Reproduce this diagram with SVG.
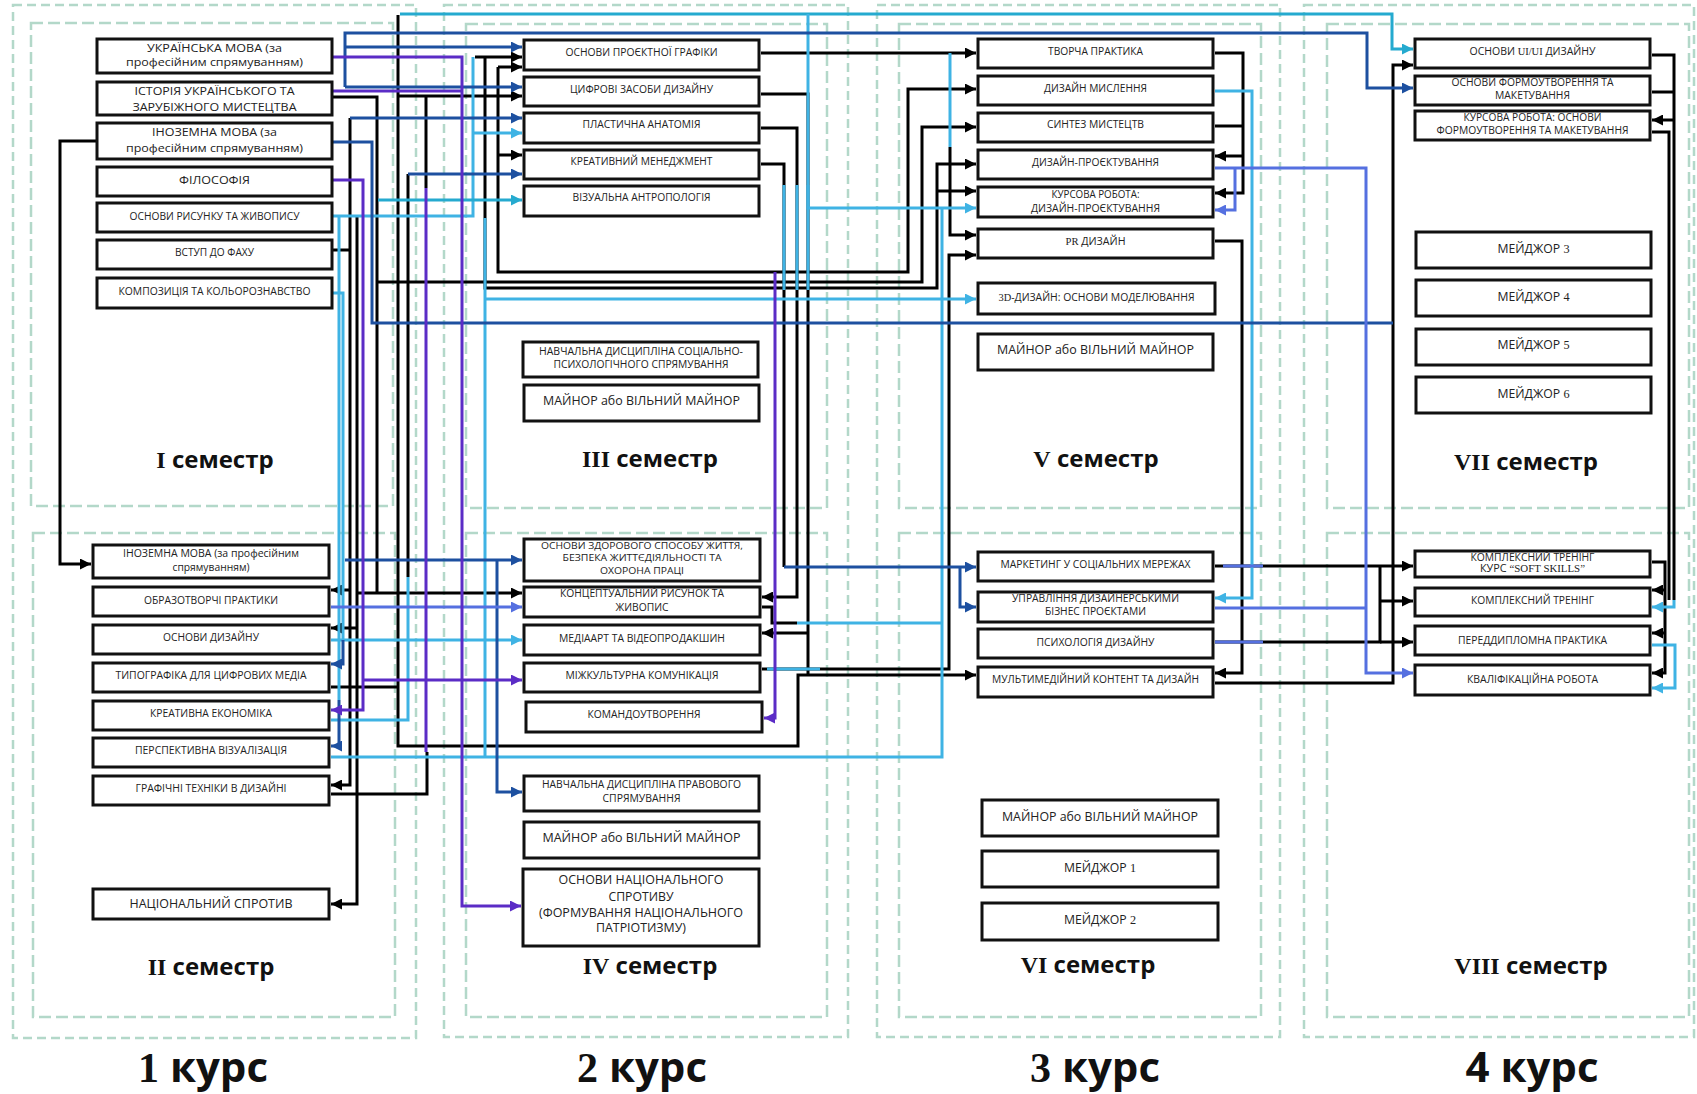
<svg xmlns="http://www.w3.org/2000/svg" width="1697" height="1094" viewBox="0 0 1697 1094">
<style>
.frame{fill:none;stroke:#b3d8c9;stroke-width:2.5;stroke-dasharray:12 5}
.outer{fill:none;stroke:#b3d8c9;stroke-width:2.5;stroke-dasharray:9 5}
.box{fill:#fff;stroke:#111;stroke-width:3}
.t{font-family:"Open Sans","Noto Sans","DejaVu Sans",sans-serif;font-size:11.5px;fill:#222;text-anchor:middle}
.s{font-family:"Liberation Serif","Times New Roman",serif}
.sem{font-family:"Open Sans","Noto Sans",sans-serif;font-weight:bold;font-size:24px;fill:#111;text-anchor:middle}
.kurs{font-family:"Open Sans","Noto Sans",sans-serif;font-weight:bold;font-size:42px;fill:#111;text-anchor:middle}
.c{fill:none;stroke-width:3}
.k{stroke:#000}.cy{stroke:#3fb3e4}.tl{stroke:#25aacf}.nv{stroke:#1d50a0}.bl{stroke:#5570e0}.pu{stroke:#5b2cc6}
</style>
<defs>
<marker id="ak" viewBox="0 0 10 10" refX="10" refY="5" markerUnits="userSpaceOnUse" markerWidth="11" markerHeight="11" orient="auto"><path d="M0,0L10,5L0,10z" fill="#000"/></marker>
<marker id="acy" viewBox="0 0 10 10" refX="10" refY="5" markerUnits="userSpaceOnUse" markerWidth="11" markerHeight="11" orient="auto"><path d="M0,0L10,5L0,10z" fill="#3fb3e4"/></marker>
<marker id="atl" viewBox="0 0 10 10" refX="10" refY="5" markerUnits="userSpaceOnUse" markerWidth="11" markerHeight="11" orient="auto"><path d="M0,0L10,5L0,10z" fill="#25aacf"/></marker>
<marker id="anv" viewBox="0 0 10 10" refX="10" refY="5" markerUnits="userSpaceOnUse" markerWidth="11" markerHeight="11" orient="auto"><path d="M0,0L10,5L0,10z" fill="#1d50a0"/></marker>
<marker id="abl" viewBox="0 0 10 10" refX="10" refY="5" markerUnits="userSpaceOnUse" markerWidth="11" markerHeight="11" orient="auto"><path d="M0,0L10,5L0,10z" fill="#5570e0"/></marker>
<marker id="apu" viewBox="0 0 10 10" refX="10" refY="5" markerUnits="userSpaceOnUse" markerWidth="11" markerHeight="11" orient="auto"><path d="M0,0L10,5L0,10z" fill="#5b2cc6"/></marker>
</defs>
<rect width="1697" height="1094" fill="#fff"/>
<g id="frames">
<rect class="outer" x="13" y="5" width="403" height="1033"/>
<rect class="outer" x="444" y="5" width="404" height="1032"/>
<rect class="outer" x="877" y="5" width="403" height="1032"/>
<rect class="outer" x="1304" y="5" width="390" height="1032"/>
<rect class="frame" x="31" y="23" width="362" height="483"/>
<rect class="frame" x="33" y="533" width="362" height="484"/>
<rect class="frame" x="466" y="24" width="361" height="484"/>
<rect class="frame" x="466" y="533" width="361" height="484"/>
<rect class="frame" x="899" y="24" width="362" height="484"/>
<rect class="frame" x="899" y="533" width="362" height="484"/>
<rect class="frame" x="1327" y="24" width="362" height="484"/>
<rect class="frame" x="1327" y="533" width="362" height="484"/>
</g>
<g id="labels">
<text class="sem" x="215" y="468"><tspan class="s">I</tspan> семестр</text>
<text class="sem" x="211" y="975"><tspan class="s">II</tspan> семестр</text>
<text class="sem" x="650" y="467"><tspan class="s">III</tspan> семестр</text>
<text class="sem" x="650" y="974"><tspan class="s">IV</tspan> семестр</text>
<text class="sem" x="1096" y="467"><tspan class="s">V</tspan> семестр</text>
<text class="sem" x="1088" y="973"><tspan class="s">VI</tspan> семестр</text>
<text class="sem" x="1526" y="470"><tspan class="s">VII</tspan> семестр</text>
<text class="sem" x="1531" y="974"><tspan class="s">VIII</tspan> семестр</text>
<text class="kurs" x="203" y="1082"><tspan class="s">1</tspan> курс</text>
<text class="kurs" x="642" y="1082"><tspan class="s">2</tspan> курс</text>
<text class="kurs" x="1095" y="1082"><tspan class="s">3</tspan> курс</text>
<text class="kurs" x="1532" y="1082">4 курс</text>
</g>
<g id="connectors">
<path class="c k" d="M97,141H60V564H91" marker-end="url(#ak)"/>
<path class="c k" d="M333,97H377V593"/>
<path class="c k" d="M377,282H922V127H976" marker-end="url(#ak)"/>
<path class="c k" d="M398,15V746H798V675H976" marker-end="url(#ak)"/>
<path class="c k" d="M398,96H522" marker-end="url(#ak)"/>
<path class="c k" d="M426,96V188"/>
<path class="c k" d="M333,250H350"/>
<path class="c k" d="M350,118V785H331" marker-end="url(#ak)"/>
<path class="c k" d="M350,590H331" marker-end="url(#ak)"/>
<path class="c k" d="M357,216V904H331" marker-end="url(#ak)"/>
<path class="c k" d="M357,593H522" marker-end="url(#ak)"/>
<path class="c k" d="M358,628H331" marker-end="url(#ak)"/>
<path class="c k" d="M408,174V577"/>
<path class="c k" d="M331,687H398"/>
<path class="c k" d="M331,794H427V752"/>
<path class="c k" d="M475,57H522" marker-end="url(#ak)"/>
<path class="c k" d="M485,57V288H937V164H976" marker-end="url(#ak)"/>
<path class="c k" d="M937,191H976" marker-end="url(#ak)"/>
<path class="c k" d="M498,67H522" marker-end="url(#ak)"/>
<path class="c k" d="M498,67V272H908V89H976" marker-end="url(#ak)"/>
<path class="c k" d="M498,155H522" marker-end="url(#ak)"/>
<path class="c k" d="M761,53H976" marker-end="url(#ak)"/>
<path class="c k" d="M761,94H808V675"/>
<path class="c k" d="M808,633H762" marker-end="url(#ak)"/>
<path class="c k" d="M761,128H797V597H762" marker-end="url(#ak)"/>
<path class="c k" d="M761,164H784V567"/>
<path class="c k" d="M762,607H772V623H797"/>
<path class="c k" d="M762,669H949V255H976" marker-end="url(#ak)"/>
<path class="c k" d="M950,147V235H976" marker-end="url(#ak)"/>
<path class="c k" d="M1215,53H1243V193H1215" marker-end="url(#ak)"/>
<path class="c k" d="M1243,156H1215" marker-end="url(#ak)"/>
<path class="c k" d="M1215,126H1243"/>
<path class="c k" d="M1215,241H1242V673H1215" marker-end="url(#ak)"/>
<path class="c k" d="M1215,566H1413" marker-end="url(#ak)"/>
<path class="c k" d="M1215,642H1380V566"/>
<path class="c k" d="M1380,601H1413" marker-end="url(#ak)"/>
<path class="c k" d="M1380,642H1413" marker-end="url(#ak)"/>
<path class="c k" d="M1215,683H1393V65H1413" marker-end="url(#ak)"/>
<path class="c k" d="M1652,55H1674V600"/>
<path class="c k" d="M1674,120H1652" marker-end="url(#ak)"/>
<path class="c k" d="M1652,92H1674"/>
<path class="c k" d="M1652,132H1669V600"/>
<path class="c k" d="M1652,562H1665V673H1652" marker-end="url(#ak)"/>
<path class="c k" d="M1665,590H1652" marker-end="url(#ak)"/>
<path class="c k" d="M1665,633H1652" marker-end="url(#ak)"/>
<path class="c tl" d="M400,14H1392V49H1413" marker-end="url(#atl)"/>
<path class="c cy" d="M808,14V208H976" marker-end="url(#acy)"/>
<path class="c cy" d="M333,216H473V57"/>
<path class="c cy" d="M473,133H522" marker-end="url(#acy)"/>
<path class="c tl" d="M378,200H522" marker-end="url(#atl)"/>
<path class="c cy" d="M339,216V700"/>
<path class="c cy" d="M333,293H343V640"/>
<path class="c cy" d="M485,218V757"/>
<path class="c cy" d="M485,299H976" marker-end="url(#acy)"/>
<path class="c cy" d="M331,757H942V208"/>
<path class="c cy" d="M797,623H942"/>
<path class="c cy" d="M331,640H522" marker-end="url(#acy)"/>
<path class="c cy" d="M331,720H408V577"/>
<path class="c cy" d="M784,185V290M797,185V290M808,185V290"/>
<path class="c cy" d="M767,669H820"/>
<path class="c cy" d="M950,53V147"/>
<path class="c cy" d="M1215,91H1252V598H1215" marker-end="url(#acy)"/>
<path class="c cy" d="M1674,600V607H1652" marker-end="url(#acy)"/>
<path class="c cy" d="M1652,645H1675V688H1652" marker-end="url(#acy)"/>
<path class="c nv" d="M333,142H372V323H1393"/>
<path class="c nv" d="M345,87V33H1367V88H1413" marker-end="url(#anv)"/>
<path class="c nv" d="M345,47H522" marker-end="url(#anv)"/>
<path class="c nv" d="M345,87H522" marker-end="url(#anv)"/>
<path class="c nv" d="M350,118H522" marker-end="url(#anv)"/>
<path class="c nv" d="M408,174H522" marker-end="url(#anv)"/>
<path class="c nv" d="M345,560H522" marker-end="url(#anv)"/>
<path class="c nv" d="M497,560V792H522" marker-end="url(#anv)"/>
<path class="c nv" d="M784,567H976" marker-end="url(#anv)"/>
<path class="c nv" d="M960,567V607H976" marker-end="url(#anv)"/>
<path class="c nv" d="M339,700V746H331" marker-end="url(#anv)"/>
<path class="c nv" d="M343,640V664H331" marker-end="url(#anv)"/>
<path class="c bl" d="M331,607H522" marker-end="url(#abl)"/>
<path class="c bl" d="M1215,168H1366V673H1413" marker-end="url(#abl)"/>
<path class="c bl" d="M1235,168V210H1215" marker-end="url(#abl)"/>
<path class="c bl" d="M1215,608H1366"/>
<path class="c bl" d="M1223,566H1263M1215,642H1263"/>
<path class="c pu" d="M333,57H462V906H521" marker-end="url(#apu)"/>
<path class="c pu" d="M333,91H462"/>
<path class="c pu" d="M333,180H363V710H331" marker-end="url(#apu)"/>
<path class="c pu" d="M363,680H522" marker-end="url(#apu)"/>
<path class="c pu" d="M426,188V752"/>
<path class="c pu" d="M775,272V718H764" marker-end="url(#apu)"/>
</g>
<g id="n-ukr"><rect class="box" x="97" y="39" width="235" height="34"/><text class="t" x="214.5" y="52" textLength="135" lengthAdjust="spacingAndGlyphs">УКРАЇНСЬКА МОВА (за</text><text class="t" x="214.5" y="66" textLength="177" lengthAdjust="spacingAndGlyphs">професійним спрямуванням)</text></g>
<g id="n-ist"><rect class="box" x="97" y="82" width="235" height="33"/><text class="t" x="214.5" y="95" textLength="160" lengthAdjust="spacingAndGlyphs">ІСТОРІЯ УКРАЇНСЬКОГО ТА</text><text class="t" x="214.5" y="111" textLength="164" lengthAdjust="spacingAndGlyphs">ЗАРУБІЖНОГО МИСТЕЦТВА</text></g>
<g id="n-inoz1"><rect class="box" x="97" y="123" width="235" height="36"/><text class="t" x="214.5" y="136" textLength="125" lengthAdjust="spacingAndGlyphs">ІНОЗЕМНА МОВА (за</text><text class="t" x="214.5" y="152" textLength="177" lengthAdjust="spacingAndGlyphs">професійним спрямуванням)</text></g>
<g id="n-fil"><rect class="box" x="97" y="167" width="235" height="29"/><text class="t" x="214.5" y="184" textLength="71" lengthAdjust="spacingAndGlyphs">ФІЛОСОФІЯ</text></g>
<g id="n-rys"><rect class="box" x="97" y="203" width="235" height="29"/><text class="t" x="214.5" y="220" textLength="170" lengthAdjust="spacingAndGlyphs" style="font-size:10.5px">ОСНОВИ РИСУНКУ ТА ЖИВОПИСУ</text></g>
<g id="n-vstup"><rect class="box" x="97" y="240" width="235" height="29"/><text class="t" x="214.5" y="256" textLength="79" lengthAdjust="spacingAndGlyphs" style="font-size:10.5px">ВСТУП ДО ФАХУ</text></g>
<g id="n-komp"><rect class="box" x="97" y="278" width="235" height="30"/><text class="t" x="214.5" y="295" textLength="192" lengthAdjust="spacingAndGlyphs" style="font-size:10.5px">КОМПОЗИЦІЯ ТА КОЛЬОРОЗНАВСТВО</text></g>
<g id="n-inoz2"><rect class="box" x="93" y="545" width="236" height="33"/><text class="t" x="211" y="557" textLength="176" lengthAdjust="spacingAndGlyphs" style="font-size:10.5px">ІНОЗЕМНА МОВА  (за професійним</text><text class="t" x="211" y="571" textLength="77" lengthAdjust="spacingAndGlyphs" style="font-size:10.5px">спрямуванням)</text></g>
<g id="n-obraz"><rect class="box" x="93" y="587" width="236" height="29"/><text class="t" x="211" y="604" textLength="134" lengthAdjust="spacingAndGlyphs" style="font-size:10.5px">ОБРАЗОТВОРЧІ ПРАКТИКИ</text></g>
<g id="n-osndyz"><rect class="box" x="93" y="625" width="236" height="29"/><text class="t" x="211" y="641" textLength="96" lengthAdjust="spacingAndGlyphs" style="font-size:10.5px">ОСНОВИ ДИЗАЙНУ</text></g>
<g id="n-typo"><rect class="box" x="93" y="663" width="236" height="29"/><text class="t" x="211" y="679" textLength="191" lengthAdjust="spacingAndGlyphs" style="font-size:10.5px">ТИПОГРАФІКА ДЛЯ ЦИФРОВИХ МЕДІА</text></g>
<g id="n-kreek"><rect class="box" x="93" y="701" width="236" height="29"/><text class="t" x="211" y="717" textLength="122" lengthAdjust="spacingAndGlyphs" style="font-size:10.5px">КРЕАТИВНА ЕКОНОМІКА</text></g>
<g id="n-persp"><rect class="box" x="93" y="738" width="236" height="29"/><text class="t" x="211" y="754" textLength="152" lengthAdjust="spacingAndGlyphs" style="font-size:10.5px">ПЕРСПЕКТИВНА ВІЗУАЛІЗАЦІЯ</text></g>
<g id="n-graf"><rect class="box" x="93" y="776" width="236" height="29"/><text class="t" x="211" y="792" textLength="151" lengthAdjust="spacingAndGlyphs" style="font-size:10.5px">ГРАФІЧНІ ТЕХНІКИ В ДИЗАЙНІ</text></g>
<g id="n-natspr"><rect class="box" x="93" y="889" width="236" height="30"/><text class="t" x="211" y="908" textLength="163" lengthAdjust="spacingAndGlyphs" style="font-size:13px">НАЦІОНАЛЬНИЙ СПРОТИВ</text></g>
<g id="n-proekt"><rect class="box" x="524" y="40" width="235" height="30"/><text class="t" x="641.5" y="56" textLength="152" lengthAdjust="spacingAndGlyphs" style="font-size:10.5px">ОСНОВИ ПРОЄКТНОЇ ГРАФІКИ</text></g>
<g id="n-tsyfr"><rect class="box" x="524" y="77" width="235" height="29"/><text class="t" x="641.5" y="93" textLength="143" lengthAdjust="spacingAndGlyphs" style="font-size:10.5px">ЦИФРОВІ ЗАСОБИ ДИЗАЙНУ</text></g>
<g id="n-plast"><rect class="box" x="524" y="113" width="235" height="30"/><text class="t" x="641.5" y="128" textLength="118" lengthAdjust="spacingAndGlyphs" style="font-size:10.5px">ПЛАСТИЧНА АНАТОМІЯ</text></g>
<g id="n-kremen"><rect class="box" x="524" y="150" width="235" height="29"/><text class="t" x="641.5" y="165" textLength="142" lengthAdjust="spacingAndGlyphs" style="font-size:10.5px">КРЕАТИВНИЙ МЕНЕДЖМЕНТ</text></g>
<g id="n-viz"><rect class="box" x="524" y="186" width="235" height="30"/><text class="t" x="641.5" y="201" textLength="138" lengthAdjust="spacingAndGlyphs" style="font-size:10.5px">ВІЗУАЛЬНА АНТРОПОЛОГІЯ</text></g>
<g id="n-socpsy"><rect class="box" x="523" y="342" width="235" height="35"/><text class="t" x="641" y="355" textLength="204" lengthAdjust="spacingAndGlyphs" style="font-size:10.5px">НАВЧАЛЬНА ДИСЦИПЛІНА СОЦІАЛЬНО-</text><text class="t" x="641" y="368" textLength="175" lengthAdjust="spacingAndGlyphs" style="font-size:10.5px">ПСИХОЛОГІЧНОГО СПРЯМУВАННЯ</text></g>
<g id="n-minor3"><rect class="box" x="524" y="385" width="235" height="36"/><text class="t" x="641.5" y="405" textLength="197" lengthAdjust="spacingAndGlyphs" style="font-size:13.5px">МАЙНОР або ВІЛЬНИЙ МАЙНОР</text></g>
<g id="n-zdor"><rect class="box" x="524" y="539" width="236" height="42"/><text class="t" x="642" y="548.6" textLength="202" lengthAdjust="spacingAndGlyphs" style="font-size:9.2px">ОСНОВИ ЗДОРОВОГО СПОСОБУ ЖИТТЯ,</text><text class="t" x="642" y="561.2" textLength="159" lengthAdjust="spacingAndGlyphs" style="font-size:9.2px">БЕЗПЕКА ЖИТТЄДІЯЛЬНОСТІ ТА</text><text class="t" x="642" y="573.8" textLength="84" lengthAdjust="spacingAndGlyphs" style="font-size:9.2px">ОХОРОНА ПРАЦІ</text></g>
<g id="n-konts"><rect class="box" x="524" y="587" width="236" height="30"/><text class="t" x="642" y="597" textLength="164" lengthAdjust="spacingAndGlyphs" style="font-size:10.5px">КОНЦЕПТУАЛЬНИЙ РИСУНОК ТА</text><text class="t" x="642" y="611" textLength="53" lengthAdjust="spacingAndGlyphs" style="font-size:10.5px">ЖИВОПИС</text></g>
<g id="n-media"><rect class="box" x="524" y="625" width="236" height="30"/><text class="t" x="642" y="642" textLength="166" lengthAdjust="spacingAndGlyphs" style="font-size:10.5px">МЕДІААРТ ТА ВІДЕОПРОДАКШИН</text></g>
<g id="n-mizhk"><rect class="box" x="524" y="663" width="236" height="29"/><text class="t" x="642" y="679" textLength="153" lengthAdjust="spacingAndGlyphs" style="font-size:10.5px">МІЖКУЛЬТУРНА КОМУНІКАЦІЯ</text></g>
<g id="n-koman"><rect class="box" x="526" y="702" width="236" height="30"/><text class="t" x="644" y="718" textLength="113" lengthAdjust="spacingAndGlyphs" style="font-size:10.5px">КОМАНДОУТВОРЕННЯ</text></g>
<g id="n-prav"><rect class="box" x="524" y="776" width="235" height="35"/><text class="t" x="641.5" y="788" textLength="199" lengthAdjust="spacingAndGlyphs" style="font-size:10.5px">НАВЧАЛЬНА ДИСЦИПЛІНА ПРАВОВОГО</text><text class="t" x="641.5" y="802" textLength="78" lengthAdjust="spacingAndGlyphs" style="font-size:10.5px">СПРЯМУВАННЯ</text></g>
<g id="n-minor4"><rect class="box" x="524" y="822" width="235" height="36"/><text class="t" x="641.5" y="842" textLength="198" lengthAdjust="spacingAndGlyphs" style="font-size:13.5px">МАЙНОР або ВІЛЬНИЙ МАЙНОР</text></g>
<g id="n-osnnat"><rect class="box" x="523" y="869" width="236" height="77"/><text class="t" x="641" y="884" textLength="165" lengthAdjust="spacingAndGlyphs" style="font-size:12.5px">ОСНОВИ НАЦІОНАЛЬНОГО</text><text class="t" x="641" y="901" textLength="65" lengthAdjust="spacingAndGlyphs" style="font-size:12.5px">СПРОТИВУ</text><text class="t" x="641" y="917" textLength="204" lengthAdjust="spacingAndGlyphs" style="font-size:12.5px">(ФОРМУВАННЯ НАЦІОНАЛЬНОГО</text><text class="t" x="641" y="932" textLength="90" lengthAdjust="spacingAndGlyphs" style="font-size:12.5px">ПАТРІОТИЗМУ)</text></g>
<g id="n-tvor"><rect class="box" x="978" y="39" width="235" height="29"/><text class="t" x="1095.5" y="55" textLength="95" lengthAdjust="spacingAndGlyphs" style="font-size:10.5px">ТВОРЧА ПРАКТИКА</text></g>
<g id="n-mysl"><rect class="box" x="978" y="76" width="235" height="29"/><text class="t" x="1095.5" y="92" textLength="103" lengthAdjust="spacingAndGlyphs" style="font-size:10.5px">ДИЗАЙН МИСЛЕННЯ</text></g>
<g id="n-synt"><rect class="box" x="978" y="113" width="235" height="29"/><text class="t" x="1095.5" y="128" textLength="97" lengthAdjust="spacingAndGlyphs" style="font-size:10.5px">СИНТЕЗ МИСТЕЦТВ</text></g>
<g id="n-dproj"><rect class="box" x="978" y="150" width="235" height="29"/><text class="t" x="1095.5" y="166" textLength="127" lengthAdjust="spacingAndGlyphs" style="font-size:10.5px">ДИЗАЙН-ПРОЄКТУВАННЯ</text></g>
<g id="n-kurs5"><rect class="box" x="978" y="187" width="235" height="30"/><text class="t" x="1095.5" y="198" textLength="88" lengthAdjust="spacingAndGlyphs" style="font-size:10.5px">КУРСОВА РОБОТА:</text><text class="t" x="1095.5" y="212" textLength="129" lengthAdjust="spacingAndGlyphs" style="font-size:10.5px">ДИЗАЙН-ПРОЄКТУВАННЯ</text></g>
<g id="n-pr"><rect class="box" x="978" y="229" width="235" height="29"/><text class="t" x="1095.5" y="245" textLength="60" lengthAdjust="spacingAndGlyphs" style="font-size:10.5px"><tspan class="s">PR</tspan> ДИЗАЙН</text></g>
<g id="n-3d"><rect class="box" x="978" y="283" width="237" height="31"/><text class="t" x="1096.5" y="301" textLength="196" lengthAdjust="spacingAndGlyphs" style="font-size:10.5px"><tspan class="s">3D</tspan>-ДИЗАЙН: ОСНОВИ МОДЕЛЮВАННЯ</text></g>
<g id="n-minor5"><rect class="box" x="978" y="334" width="235" height="36"/><text class="t" x="1095.5" y="354" textLength="197" lengthAdjust="spacingAndGlyphs" style="font-size:13.5px">МАЙНОР або ВІЛЬНИЙ МАЙНОР</text></g>
<g id="n-mark"><rect class="box" x="978" y="552" width="235" height="29"/><text class="t" x="1095.5" y="568" textLength="190" lengthAdjust="spacingAndGlyphs" style="font-size:10.5px">МАРКЕТИНГ У СОЦІАЛЬНИХ МЕРЕЖАХ</text></g>
<g id="n-uprav"><rect class="box" x="978" y="592" width="235" height="30"/><text class="t" x="1095.5" y="602" textLength="167" lengthAdjust="spacingAndGlyphs" style="font-size:10.5px">УПРАВЛІННЯ ДИЗАЙНЕРСЬКИМИ</text><text class="t" x="1095.5" y="615" textLength="101" lengthAdjust="spacingAndGlyphs" style="font-size:10.5px">БІЗНЕС ПРОЄКТАМИ</text></g>
<g id="n-psy"><rect class="box" x="978" y="629" width="235" height="29"/><text class="t" x="1095.5" y="646" textLength="118" lengthAdjust="spacingAndGlyphs" style="font-size:10.5px">ПСИХОЛОГІЯ ДИЗАЙНУ</text></g>
<g id="n-multi"><rect class="box" x="978" y="667" width="235" height="30"/><text class="t" x="1095.5" y="683" textLength="207" lengthAdjust="spacingAndGlyphs" style="font-size:10.5px">МУЛЬТИМЕДІЙНИЙ КОНТЕНТ ТА ДИЗАЙН</text></g>
<g id="n-minor6"><rect class="box" x="982" y="800" width="236" height="36"/><text class="t" x="1100" y="821" textLength="196" lengthAdjust="spacingAndGlyphs" style="font-size:13px">МАЙНОР або ВІЛЬНИЙ МАЙНОР</text></g>
<g id="n-maj1"><rect class="box" x="982" y="851" width="236" height="36"/><text class="t" x="1100" y="872" textLength="72" lengthAdjust="spacingAndGlyphs" style="font-size:12.5px">МЕЙДЖОР <tspan class="s">1</tspan></text></g>
<g id="n-maj2"><rect class="box" x="982" y="903" width="236" height="37"/><text class="t" x="1100" y="924" textLength="72" lengthAdjust="spacingAndGlyphs" style="font-size:12.5px">МЕЙДЖОР <tspan class="s">2</tspan></text></g>
<g id="n-ui"><rect class="box" x="1415" y="39" width="235" height="29"/><text class="t" x="1532.5" y="55" textLength="126" lengthAdjust="spacingAndGlyphs" style="font-size:10.5px">ОСНОВИ <tspan class="s">UI/UI</tspan> ДИЗАЙНУ</text></g>
<g id="n-form"><rect class="box" x="1415" y="76" width="235" height="29"/><text class="t" x="1532.5" y="86" textLength="162" lengthAdjust="spacingAndGlyphs" style="font-size:10.5px">ОСНОВИ ФОРМОУТВОРЕННЯ ТА</text><text class="t" x="1532.5" y="99" textLength="75" lengthAdjust="spacingAndGlyphs" style="font-size:10.5px">МАКЕТУВАННЯ</text></g>
<g id="n-kurs7"><rect class="box" x="1415" y="111" width="235" height="29"/><text class="t" x="1532.5" y="121" textLength="138" lengthAdjust="spacingAndGlyphs" style="font-size:10.5px">КУРСОВА РОБОТА: ОСНОВИ</text><text class="t" x="1532.5" y="134" textLength="192" lengthAdjust="spacingAndGlyphs" style="font-size:10.5px">ФОРМОУТВОРЕННЯ ТА МАКЕТУВАННЯ</text></g>
<g id="n-maj3"><rect class="box" x="1416" y="232" width="235" height="36"/><text class="t" x="1533.5" y="253" textLength="72" lengthAdjust="spacingAndGlyphs" style="font-size:12.5px">МЕЙДЖОР <tspan class="s">3</tspan></text></g>
<g id="n-maj4"><rect class="box" x="1416" y="280" width="235" height="36"/><text class="t" x="1533.5" y="301" textLength="72" lengthAdjust="spacingAndGlyphs" style="font-size:12.5px">МЕЙДЖОР <tspan class="s">4</tspan></text></g>
<g id="n-maj5"><rect class="box" x="1416" y="329" width="235" height="36"/><text class="t" x="1533.5" y="349" textLength="72" lengthAdjust="spacingAndGlyphs" style="font-size:12.5px">МЕЙДЖОР <tspan class="s">5</tspan></text></g>
<g id="n-maj6"><rect class="box" x="1416" y="377" width="235" height="36"/><text class="t" x="1533.5" y="398" textLength="72" lengthAdjust="spacingAndGlyphs" style="font-size:12.5px">МЕЙДЖОР <tspan class="s">6</tspan></text></g>
<g id="n-soft"><rect class="box" x="1415" y="551" width="235" height="26"/><text class="t" x="1532.5" y="561" textLength="124" lengthAdjust="spacingAndGlyphs" style="font-size:10.5px">КОМПЛЕКСНИЙ ТРЕНІНГ</text><text class="t" x="1532.5" y="572" textLength="105" lengthAdjust="spacingAndGlyphs" style="font-size:10.5px">КУРС <tspan class="s">“SOFT SKILLS”</tspan></text></g>
<g id="n-kompl"><rect class="box" x="1415" y="588" width="235" height="28"/><text class="t" x="1532.5" y="604" textLength="123" lengthAdjust="spacingAndGlyphs" style="font-size:10.5px">КОМПЛЕКСНИЙ ТРЕНІНГ</text></g>
<g id="n-pered"><rect class="box" x="1415" y="626" width="235" height="29"/><text class="t" x="1532.5" y="644" textLength="149" lengthAdjust="spacingAndGlyphs" style="font-size:10.5px">ПЕРЕДДИПЛОМНА ПРАКТИКА</text></g>
<g id="n-kval"><rect class="box" x="1415" y="665" width="235" height="30"/><text class="t" x="1532.5" y="683" textLength="131" lengthAdjust="spacingAndGlyphs" style="font-size:10.5px">КВАЛІФІКАЦІЙНА РОБОТА</text></g>
</svg>
